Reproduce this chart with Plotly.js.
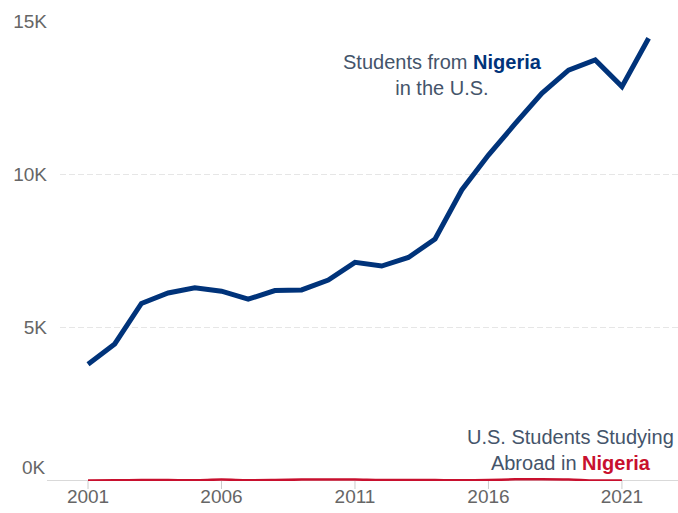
<!DOCTYPE html>
<html>
<head>
<meta charset="utf-8">
<script src="https://cdn.plot.ly/plotly-3.0.1.min.js"></script>
<style>html,body{margin:0;padding:0;background:#fff;}#chart{width:678px;height:513px;}</style>
</head>
<body>
<div id="chart"></div>
<script>
const years = [2001,2002,2003,2004,2005,2006,2007,2008,2009,2010,2011,2012,2013,2014,2015,2016,2017,2018,2019,2020,2021,2022];
const nigeriaInUS = [3810,4470,5790,6130,6300,6190,5930,6210,6230,6550,7130,7010,7290,7890,9490,10630,11650,12640,13400,13730,12860,14440];
const usYears = [2001,2002,2003,2004,2005,2006,2007,2008,2009,2010,2011,2012,2013,2014,2015,2016,2017,2018,2019,2020,2021];
const usInNigeria = [20,25,30,30,25,45,25,30,45,50,45,30,35,30,25,35,55,60,50,15,20];
const xTicks = [2001,2006,2011,2016,2021];
const yTicks = [0,5000,10000,15000];
const yTickText = ["","5K","10K","15K"];

const plotH = 513 - 21 - 32;
const tickShapes = xTicks.map(t => ({
  type: 'line', xref: 'x', yref: 'paper',
  x0: t, x1: t, y0: 0, y1: -8 / plotH, line: {color: '#cccccc', width: 1}, layer: 'below'
}));

const traces = [
  {x: years, y: nigeriaInUS, type: 'scatter', mode: 'lines',
   line: {color: '#00337a', width: 5}, hoverinfo: 'skip'},
  {x: usYears, y: usInNigeria, type: 'scatter', mode: 'lines',
   line: {color: '#c8102e', width: 2.5, shape: 'spline'}, hoverinfo: 'skip'}
];

const layout = {
  width: 678, height: 513,
  margin: {l: 60, r: 0, t: 21, b: 32},
  paper_bgcolor: '#fff', plot_bgcolor: '#fff',
  showlegend: false,
  font: {family: 'Liberation Sans, Arial, sans-serif', color: '#666'},
  xaxis: {
    range: [1999.95, 2023.1], tickvals: xTicks, ticktext: xTicks.map(String),
    showgrid: false, zeroline: false, showline: false,
    ticks: '', ticklabelstandoff: 2,
    tickfont: {size: 19, color: '#666'}
  },
  yaxis: {
    range: [0, 15000], tickvals: yTicks, ticktext: yTickText,
    showgrid: true, gridcolor: '#e6e6e6', griddash: '6px,3px', gridwidth: 1,
    zeroline: false, showline: false, ticks: '', ticklabelstandoff: 12,
    tickfont: {size: 19, color: '#666'}
  },
  shapes: [
    {type: 'line', xref: 'paper', yref: 'y', x0: -0.021, x1: 1, y0: 0, y1: 0,
     line: {color: '#cccccc', width: 1.5}, layer: 'below'}
  ].concat(tickShapes),
  annotations: [
    {xref: 'paper', yref: 'y', x: 0, y: 0, xanchor: 'right', yanchor: 'middle',
     xshift: -12, yshift: 14, text: '0K', showarrow: false,
     font: {size: 19, color: '#666'}},
    {xref: 'x', yref: 'y', x: 2014.26, y: 13250, xanchor: 'center', yanchor: 'middle',
     text: 'Students from <b><span style="color:#00337a">Nigeria</span></b><br>in the U.S.',
     showarrow: false, align: 'center',
     font: {size: 20, color: '#44546a'}},
    {xref: 'x', yref: 'y', x: 2019.09, y: 1020, xanchor: 'center', yanchor: 'middle',
     text: 'U.S. Students Studying<br>Abroad in <b><span style="color:#c8102e">Nigeria</span></b>',
     showarrow: false, align: 'center',
     font: {size: 20, color: '#44546a'}}
  ]
};

Plotly.newPlot('chart', traces, layout, {displayModeBar: false, staticPlot: true});
</script>
</body>
</html>
